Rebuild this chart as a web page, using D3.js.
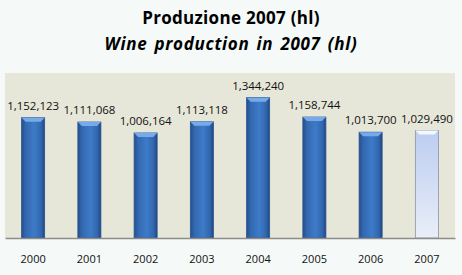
<!DOCTYPE html>
<html>
<head>
<meta charset="utf-8">
<script src="https://cdn.jsdelivr.net/npm/d3@7"></script>
<style>
  body { margin: 0; background: #f5faf8; }
  svg { display: block; font-family: "Open Sans", "Noto Sans", sans-serif; }
</style>
</head>
<body>
<div id="chart"></div>
<script>
// chart data
var years = ["2000", "2001", "2002", "2003", "2004", "2005", "2006", "2007"];
var production = [1152123, 1111068, 1006164, 1113118, 1344240, 1158744, 1013700, 1029490];
var highlightYear = "2007";
var titleLines = ["Produzione 2007 (hl)", "Wine production in 2007 (hl)"];

var width = 462,
    height = 275,
    plot = {left: 5, right: 455, top: 73, bottom: 238};

var svg = d3.select("#chart").append("svg")
    .attr("width", width)
    .attr("height", height);

var defs = svg.append("defs");

// bar gradients (dark edges, brighter middle)
var g1 = defs.append("linearGradient").attr("id", "barBlue");
g1.append("stop").attr("offset", "0%").attr("stop-color", "#244f8c");
g1.append("stop").attr("offset", "18%").attr("stop-color", "#3468b0");
g1.append("stop").attr("offset", "55%").attr("stop-color", "#3d7bc8");
g1.append("stop").attr("offset", "85%").attr("stop-color", "#3266ae");
g1.append("stop").attr("offset", "100%").attr("stop-color", "#1f4680");

var g2 = defs.append("linearGradient").attr("id", "barLight")
    .attr("x1", "0").attr("y1", "0").attr("x2", "0").attr("y2", "1");
g2.append("stop").attr("offset", "0%").attr("stop-color", "#bccdf0");
g2.append("stop").attr("offset", "100%").attr("stop-color", "#e9eef8");

var x = d3.scaleBand()
    .domain(years)
    .range([plot.left, plot.right])
    .paddingInner(0.59)
    .paddingOuter(0.295);

var y = d3.scaleLinear()
    .domain([0, 1600000])
    .range([plot.bottom, 71]);

// plot area
svg.append("rect")
    .attr("x", plot.left)
    .attr("y", plot.top)
    .attr("width", plot.right - plot.left)
    .attr("height", plot.bottom - plot.top)
    .attr("fill", "#e7e7d9");

// titles
svg.append("text")
    .attr("x", width / 2)
    .attr("y", 24)
    .attr("text-anchor", "middle")
    .attr("font-size", "17px")
    .attr("font-weight", "bold")
    .attr("letter-spacing", "0.3px")
    .text(titleLines[0]);

svg.append("text")
    .attr("x", width / 2)
    .attr("y", 50)
    .attr("text-anchor", "middle")
    .attr("font-size", "17px")
    .attr("font-weight", "bold")
    .attr("font-style", "italic")
    .attr("letter-spacing", "0.7px")
    .attr("word-spacing", "2px")
    .text(titleLines[1]);

var data = years.map(function(yr, i) { return {year: yr, value: production[i]}; });

var bar = svg.selectAll(".bar")
    .data(data)
    .enter().append("g")
    .attr("class", "bar");

bar.append("rect")
    .attr("x", function(d) { return x(d.year); })
    .attr("y", function(d) { return y(d.value); })
    .attr("width", x.bandwidth())
    .attr("height", function(d) { return y(0) - y(d.value); })
    .attr("fill", function(d) { return d.year == highlightYear ? "url(#barLight)" : "url(#barBlue)"; })
    .attr("stroke", function(d) { return d.year == highlightYear ? "#8a93a6" : "#2a568f"; })
    .attr("stroke-width", 0.8);

// top bevel
bar.append("path")
    .attr("d", function(d) {
      var x0 = x(d.year), x1 = x0 + x.bandwidth(), t = y(d.value), b = 4;
      return "M" + x0 + "," + t + "L" + x1 + "," + t +
             "L" + (x1 - b) + "," + (t + b) + "L" + (x0 + b) + "," + (t + b) + "Z";
    })
    .attr("fill", function(d) { return d.year == highlightYear ? "#f4f7fd" : "#76aaea"; });

// value labels
bar.append("text")
    .attr("x", function(d) { return x(d.year) + x.bandwidth() / 2; })
    .attr("y", function(d) { return y(d.value) - 8; })
    .attr("text-anchor", "middle")
    .attr("font-size", "11.5px")
    .attr("fill", "#111")
    .text(function(d) { return d3.format(",")(d.value); });

// x axis
var xAxis = svg.append("g")
    .attr("transform", "translate(0," + plot.bottom + ")")
    .call(d3.axisBottom(x).tickSize(0).tickPadding(17));

xAxis.select(".domain").attr("stroke", "#8c8c8c").attr("stroke-width", 1.5);
xAxis.selectAll("text")
    .attr("font-size", "11px")
    .attr("font-family", "\"Open Sans\", \"Noto Sans\", sans-serif")
    .attr("fill", "#111");
</script>
</body>
</html>
